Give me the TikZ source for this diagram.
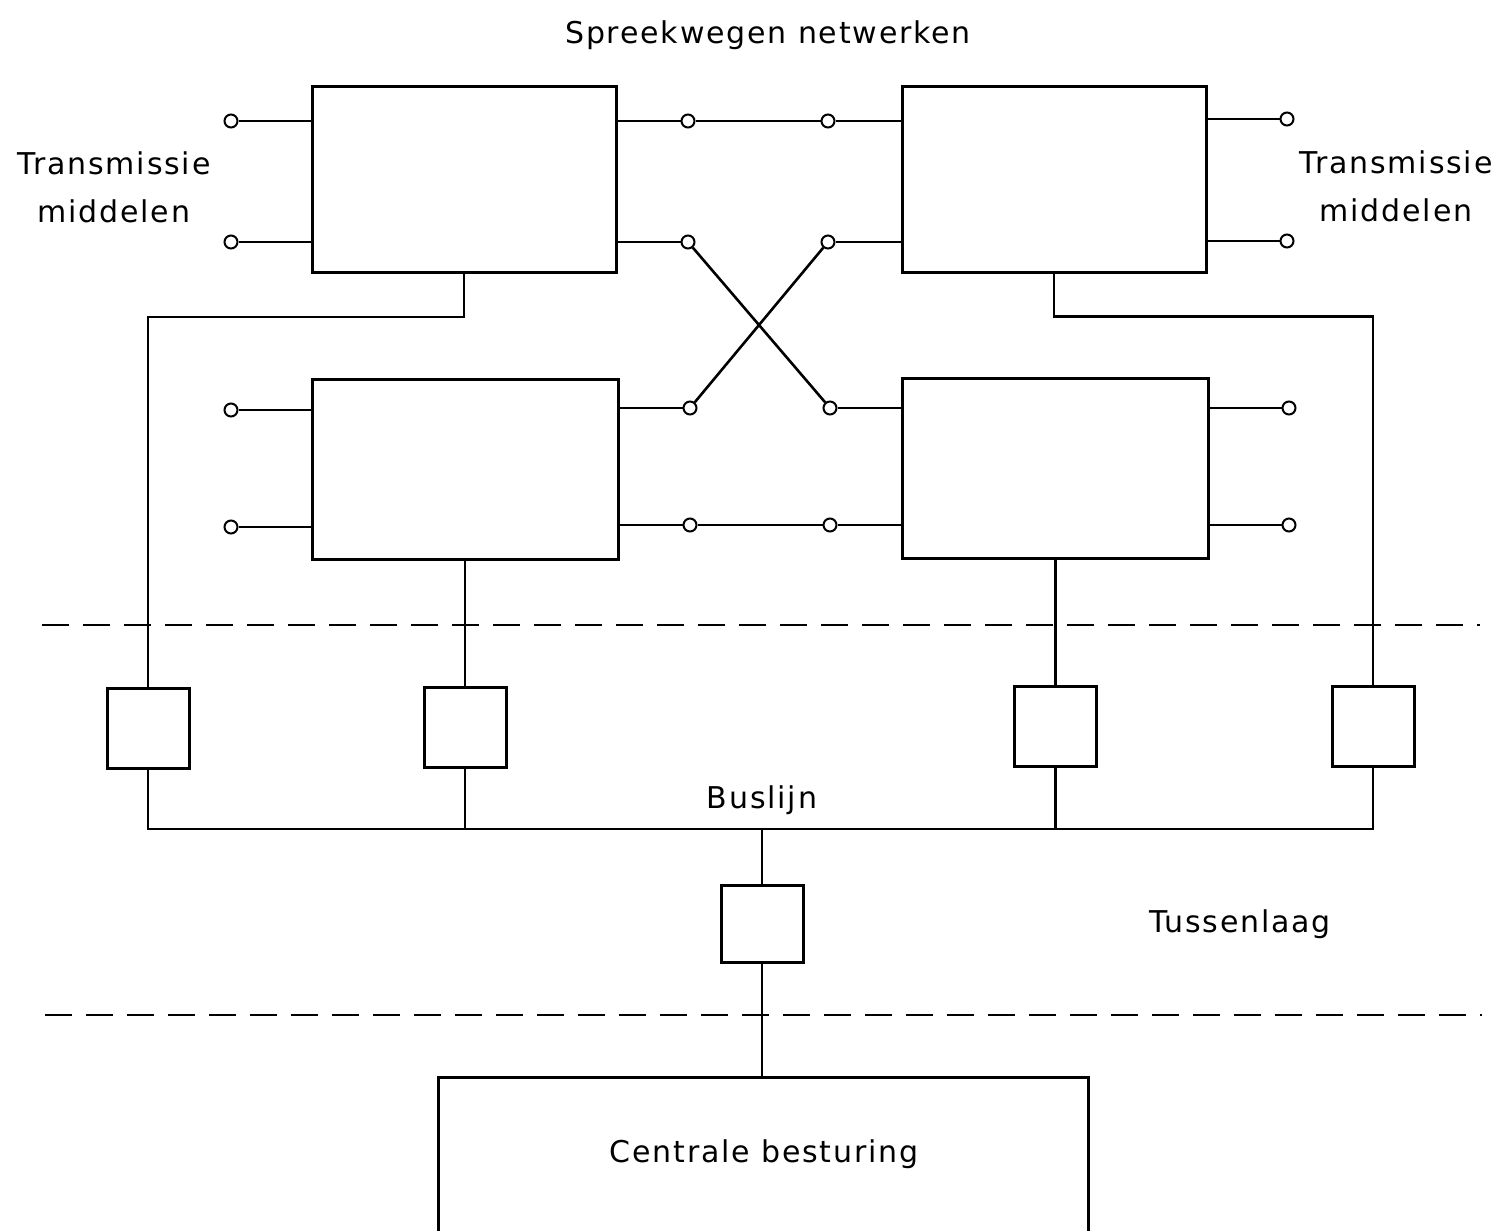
\documentclass[tikz,border=0pt]{standalone}
\usepackage{fontspec}
\setmainfont[LetterSpace=6]{DejaVu Sans}
\usetikzlibrary{positioning}

\begin{document}
\begin{tikzpicture}[
  x=0.5pt, y=-0.5pt,
  font=\fontsize{15}{24}\selectfont,
  line width=1.3pt,
  block/.style={
    draw,
    line width=1.5pt,
    minimum width=152pt,
    minimum height=93pt,
    inner sep=0pt
  },
  lowblock/.style={
    block,
    minimum width=153pt,
    minimum height=90pt
  },
  unit/.style={
    draw,
    line width=1.5pt,
    minimum width=41pt,
    minimum height=40pt,
    inner sep=0pt
  },
  term/.style={
    circle,
    draw,
    fill=white,
    line width=1pt,
    minimum size=6.5pt,
    inner sep=0pt
  },
  label/.style={
    align=center,
    inner sep=0pt
  },
  layer/.style={
    line width=1pt,
    dash pattern=on 13.5pt off 7pt
  }
]
\clip (0,0) rectangle (1512,1231);
\fill[white] (0,0) rectangle (1512,1231);

% Spreekwegen netwerken
\node[block] (tl) at (464,179.5) {};
\node[block] (tr) at (1054,179) {};
\node[lowblock] (bl) at (465,469) {};
\node[lowblock] (br) at (1055.5,468.5) {};

% Aansluitpunten
\node[term] (tla) at (231,121) {};
\node[term] (tlb) at (231,242) {};
\node[term] (bla) at (231,410) {};
\node[term] (blb) at (231,527) {};
\node[term] (tra) at (1287,119) {};
\node[term] (trb) at (1287,241) {};
\node[term] (bra) at (1289,408) {};
\node[term] (brb) at (1289,525) {};

\node[term] (ma) at (688,121) {};
\node[term] (mb) at (828,121) {};
\node[term] (mc) at (688,242) {};
\node[term] (md) at (828,242) {};
\node[term] (me) at (690,408) {};
\node[term] (mf) at (830,408) {};
\node[term] (mg) at (690,525) {};
\node[term] (mh) at (830,525) {};

% Tussenlaag
\node[unit] (ua) at (148,728) {};
\node[unit] (ub) at (465,727.5) {};
\node[unit] (uc) at (1055.5,726.5) {};
\node[unit] (ud) at (1373,726.5) {};
\node[unit, minimum height=38.5pt] (ubus) at (762,923.5) {};
\coordinate (bus) at (762,829);

% Centrale besturing
\node[draw, line width=1.5pt, minimum width=325pt, minimum height=90pt, anchor=north] (ctrl) at (763,1076) {};

% Scheidingslijnen
\coordinate (d1a) at (42,625);
\coordinate (d1b) at (1480,625);
\coordinate (d2a) at (45,1015);
\coordinate (d2b) at (1482,1015);

% Teksten
\node[label] (title) at (768,35) {Spreekwegen netwerken};
\node[label] (tmleft) at (114,187) {Transmissie\\middelen};
\node[label] (tmright) at (1396,186) {Transmissie\\middelen};
\node[label] (buslbl) at (762,800) {Buslijn};
\node[label] (tuslbl) at (1240,924) {Tussenlaag};
\node[label] (ctrllbl) at (764,1154) {Centrale besturing};

% Verbindingen
\draw (tla) -- (tla -| tl.west);
\draw (tlb) -- (tlb -| tl.west);
\draw (bla) -- (bla -| bl.west);
\draw (blb) -- (blb -| bl.west);
\draw (tra) -- (tra -| tr.east);
\draw (trb) -- (trb -| tr.east);
\draw (bra) -- (bra -| br.east);
\draw (brb) -- (brb -| br.east);

\draw (ma -| tl.east) -- (ma) -- (mb) -- (mb -| tr.west);
\draw (mc -| tl.east) -- (mc);
\draw (md) -- (md -| tr.west);
\draw (me -| bl.east) -- (me);
\draw (mf) -- (mf -| br.west);
\draw (mg -| bl.east) -- (mg) -- (mh) -- (mh -| br.west);
\draw (mc) -- (mf);
\draw (md) -- (me);

\draw (tl.south) -- ++(0,43) -| (ua.north);
\draw (tr.south) -- ++(0,43) -| (ud.north);
\draw (bl.south) -- (ub.north);
\draw (br.south) -- (uc.north);

\draw (ua.south) |- (bus) -| (ud.south);
\draw (ub.south) -- (ub.south |- bus);
\draw (uc.south) -- (uc.south |- bus);
\draw (bus) -- (ubus.north);
\draw (ubus.south) -- (ubus.south |- ctrl.north);

\draw[layer] (d1a) -- (d1b);
\draw[layer] (d2a) -- (d2b);

\end{tikzpicture}
\end{document}
